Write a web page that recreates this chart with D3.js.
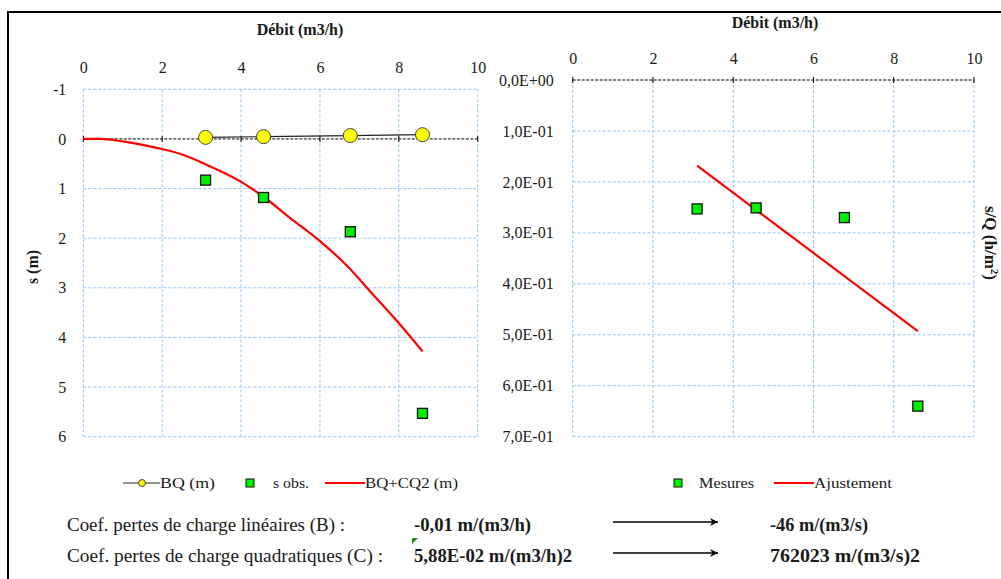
<!DOCTYPE html>
<html>
<head>
<meta charset="utf-8">
<script src="https://cdn.jsdelivr.net/npm/d3@7"></script>
<style>
    body { margin: 0; background: #fff; }
    svg text { font-family: "Liberation Serif", "Times New Roman", serif !important; fill: #1a1a1a; }
</style>
</head>
<body>
<svg id="chart" width="1001" height="579"></svg>
<script>
// pumping test data
const debit = [3.1, 4.57, 6.77, 8.6];           // Q (m3/h)
const bq = [-0.031, -0.046, -0.068, -0.086];    // BQ (m)
const sObs = [0.83, 1.18, 1.87, 5.53];          // s obs. (m)
const curveQ = [0, 0.43, 1.0, 1.86, 2.45, 3.13, 3.97, 4.56, 5.24, 6.0, 6.68, 7.35, 8.03, 8.6];
const curveS = [0, 0, 0.05, 0.18, 0.3, 0.52, 0.85, 1.16, 1.59, 2.06, 2.55, 3.14, 3.74, 4.28];
const sOverQ = [0.253, 0.251, 0.27, 0.64];      // Mesures
const fitQ = [3.1, 8.6];
const fitSQ = [0.168, 0.493];                    // Ajustement
const xTicks = [0, 2, 4, 6, 8, 10];
const sTicks = [-1, 0, 1, 2, 3, 4, 5, 6];
const sqTicks = [0, 0.1, 0.2, 0.3, 0.4, 0.5, 0.6, 0.7];
const coefRows = [
    ["Coef. pertes de charge linéaires (B) :", "-0,01 m/(m3/h)", "-46 m/(m3/s)"],
    ["Coef. pertes de charge quadratiques  (C) :", "5,88E-02 m/(m3/h)2", "762023  m/(m3/s)2"]
];
const coefWidths = [[278, 117, 98], [316, 158, 150]];

const svg = d3.select('#chart');
svg.append('rect').attr('width', 1001).attr('height', 579).attr('fill', '#fff');
svg.append('rect')
    .attr('x', 8).attr('y', 12).attr('width', 1010).attr('height', 600)
    .attr('fill', 'none').attr('stroke', '#000').attr('stroke-width', 2);

const gridColor = '#94c4f2';

function drawPanel(opt) {
    const x = opt.x, y = opt.y;
    const g = svg.append('g');
    const x0 = x.range()[0], x1 = x.range()[1];
    const y0 = y.range()[0], y1 = y.range()[1];

    // grid
    g.selectAll('.vg').data(opt.xTicks).enter().append('line')
        .attr('x1', d => x(d)).attr('x2', d => x(d))
        .attr('y1', y0).attr('y2', y1)
        .attr('stroke', gridColor).attr('stroke-dasharray', '3,2');
    g.selectAll('.hg').data(opt.yTicks.filter(d => d !== 0)).enter().append('line')
        .attr('x1', x0).attr('x2', x1)
        .attr('y1', d => y(d)).attr('y2', d => y(d))
        .attr('stroke', gridColor).attr('stroke-dasharray', '3,2');

    // zero line (the category axis crosses here)
    g.append('line')
        .attr('x1', x0).attr('x2', x1).attr('y1', y(0)).attr('y2', y(0))
        .attr('stroke', '#000').attr('stroke-dasharray', '3,1.5');
    g.selectAll('.tk').data(opt.xTicks).enter().append('line')
        .attr('x1', d => x(d)).attr('x2', d => x(d))
        .attr('y1', y(0) - 3).attr('y2', y(0) + 3)
        .attr('stroke', '#000');

    // tick labels
    const ax = g.append('g').attr('transform', 'translate(0,' + y0 + ')')
        .call(d3.axisTop(x).tickValues(opt.xTicks).tickSize(0).tickPadding(16).tickFormat(d => String(d)));
    const ay = g.append('g').attr('transform', 'translate(' + x0 + ',0)')
        .call(d3.axisLeft(y).tickValues(opt.yTicks).tickSize(0).tickPadding(opt.yPad).tickFormat(opt.yFormat));
    [ax, ay].forEach(a => {
        a.attr('font-family', null).attr('font-size', null);
        a.select('.domain').remove();
        a.selectAll('text').style('font-size', '16px').attr('fill', '#1a1a1a');
    });

    // titles
    g.append('text').attr('x', opt.titleX).attr('y', opt.titleY)
        .attr('text-anchor', 'middle').style('font-size', '16px').style('font-weight', 'bold')
        .text('Débit  (m3/h)');
    return g;
}

// ---- left panel: s vs Q
const xL = d3.scaleLinear().domain([0, 10]).range([83.3, 477.7]);
const yL = d3.scaleLinear().domain([-1, 6]).range([89.3, 436.7]);
const gL = drawPanel({ x: xL, y: yL, xTicks: xTicks, yTicks: sTicks, yPad: 17,
    yFormat: d => String(d), titleX: 300, titleY: 35 });

gL.append('text')
    .attr('transform', 'translate(38,267) rotate(-90)')
    .attr('text-anchor', 'middle').style('font-size', '16px').style('font-weight', 'bold')
    .text('s (m)');

gL.append('path')
    .datum(curveQ.map((q, i) => [q, curveS[i]]))
    .attr('d', d3.line().curve(d3.curveMonotoneX).x(d => xL(d[0])).y(d => yL(d[1])))
    .attr('fill', 'none').attr('stroke', '#ff0000').attr('stroke-width', 2.2);

gL.append('path')
    .datum(debit.map((q, i) => [q, bq[i]]))
    .attr('d', d3.line().x(d => xL(d[0])).y(d => yL(d[1])))
    .attr('fill', 'none').attr('stroke', '#222').attr('stroke-width', 1.2);

gL.selectAll('.bq').data(debit).enter().append('circle')
    .attr('cx', d => xL(d)).attr('cy', (d, i) => yL(bq[i])).attr('r', 7)
    .attr('fill', '#ffff00').attr('stroke', '#444').attr('stroke-width', 1);

gL.selectAll('.sobs').data(debit).enter().append('rect')
    .attr('x', d => xL(d) - 5).attr('y', (d, i) => yL(sObs[i]) - 5)
    .attr('width', 10).attr('height', 10)
    .attr('fill', '#00ee00').attr('stroke', '#111').attr('stroke-width', 1.3);

// ---- right panel: s/Q vs Q
const xR = d3.scaleLinear().domain([0, 10]).range([572.7, 974]);
const yR = d3.scaleLinear().domain([0, 0.7]).range([80, 436.7]);
const gR = drawPanel({ x: xR, y: yR, xTicks: xTicks, yTicks: sqTicks, yPad: 19,
    yFormat: d => d3.format('.1e')(d).replace('.', ',').replace(/e([+-])(\d)$/, 'E$10$2'),
    titleX: 775, titleY: 28 });

gR.append('text')
    .attr('transform', 'translate(985,243) rotate(90)')
    .attr('text-anchor', 'middle').style('font-size', '17px').style('font-weight', 'bold')
    .html('s/Q (h/m<tspan dy="-6" style="font-size:11px">2</tspan><tspan dy="6">)</tspan>');

gR.append('path')
    .datum(fitQ.map((q, i) => [q, fitSQ[i]]))
    .attr('d', d3.line().x(d => xR(d[0])).y(d => yR(d[1])))
    .attr('fill', 'none').attr('stroke', '#ff0000').attr('stroke-width', 2.2);

gR.selectAll('.mes').data(debit).enter().append('rect')
    .attr('x', d => xR(d) - 5).attr('y', (d, i) => yR(sOverQ[i]) - 5)
    .attr('width', 10).attr('height', 10)
    .attr('fill', '#00ee00').attr('stroke', '#111').attr('stroke-width', 1.3);

// ---- legends
const lg = svg.append('g').style('font-size', '15px');
const ly = 483;
function legendText(x, txt, w) {
    lg.append('text').attr('x', x).attr('y', ly + 5).attr('textLength', w)
        .attr('lengthAdjust', 'spacingAndGlyphs').text(txt);
}
lg.append('line').attr('x1', 123).attr('x2', 160).attr('y1', ly).attr('y2', ly).attr('stroke', '#222');
lg.append('circle').attr('cx', 142).attr('cy', ly).attr('r', 3.5).attr('fill', '#ffff00').attr('stroke', '#444');
legendText(160, 'BQ (m)', 55);
lg.append('rect').attr('x', 246).attr('y', ly - 4).attr('width', 8).attr('height', 8)
    .attr('fill', '#00ee00').attr('stroke', '#111');
legendText(273, 's obs.', 36);
lg.append('line').attr('x1', 325).attr('x2', 365).attr('y1', ly).attr('y2', ly).attr('stroke', '#ff0000').attr('stroke-width', 2.2);
legendText(365, 'BQ+CQ2 (m)', 93);

lg.append('rect').attr('x', 674).attr('y', ly - 4).attr('width', 8).attr('height', 8)
    .attr('fill', '#00ee00').attr('stroke', '#111');
legendText(699, 'Mesures', 55);
lg.append('line').attr('x1', 774).attr('x2', 814).attr('y1', ly).attr('y2', ly).attr('stroke', '#ff0000').attr('stroke-width', 2.2);
legendText(814, 'Ajustement', 78);

// ---- coefficients
svg.append('defs').append('marker')
    .attr('id', 'arrow').attr('viewBox', '0 0 10 10').attr('refX', 10).attr('refY', 5)
    .attr('markerWidth', 11).attr('markerHeight', 8).attr('markerUnits', 'userSpaceOnUse')
    .attr('orient', 'auto')
    .append('path').attr('d', 'M0,0 L10,5 L0,10 L3,5 Z').attr('fill', '#000');

const cg = svg.append('g').style('font-size', '19px');
coefRows.forEach((row, i) => {
    const by = 531 + i * 31;
    const w = coefWidths[i];
    cg.append('text').attr('x', 67).attr('y', by)
        .attr('textLength', w[0]).attr('lengthAdjust', 'spacingAndGlyphs').text(row[0]);
    cg.append('text').attr('x', 414).attr('y', by).style('font-weight', 'bold')
        .attr('textLength', w[1]).attr('lengthAdjust', 'spacingAndGlyphs').text(row[1]);
    cg.append('line').attr('x1', 613).attr('x2', 718).attr('y1', by - 9).attr('y2', by - 9)
        .attr('stroke', '#000').attr('stroke-width', 1.3).attr('marker-end', 'url(#arrow)');
    cg.append('text').attr('x', 770).attr('y', by).style('font-weight', 'bold')
        .attr('textLength', w[2]).attr('lengthAdjust', 'spacingAndGlyphs').text(row[2]);
});
// comment marker of the spreadsheet cell
svg.append('path').attr('d', 'M412,538 L418,538 L412,544 Z').attr('fill', '#1a8f1a');
</script>
</body>
</html>
